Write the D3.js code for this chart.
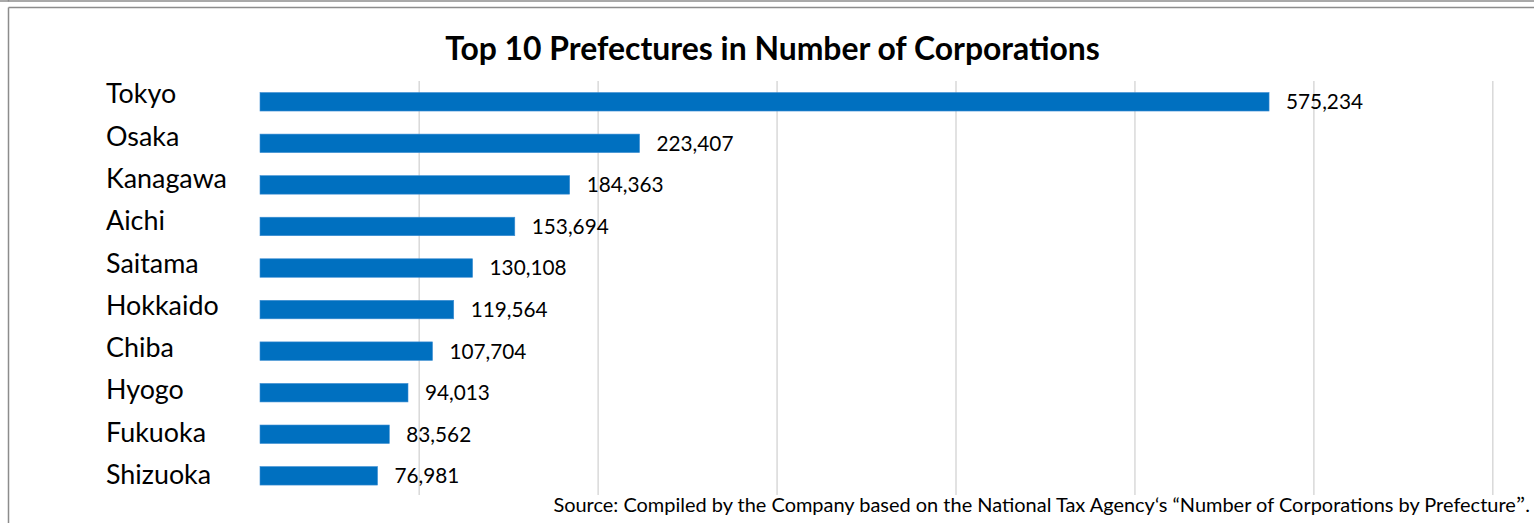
<!DOCTYPE html>
<html>
<head>
<meta charset="utf-8">
<script src="https://cdn.jsdelivr.net/npm/d3@7"></script>
<style>
  html, body { margin: 0; padding: 0; background: #fff; }
  svg { display: block; }
  text { font-family: Lato, "Noto Sans", sans-serif; fill: #000; }
</style>
</head>
<body>
<svg id="chart" width="1534" height="523"></svg>
<script>
// Number of corporations, top 10 prefectures
const prefectures = ["Tokyo", "Osaka", "Kanagawa", "Aichi", "Saitama",
                     "Hokkaido", "Chiba", "Hyogo", "Fukuoka", "Shizuoka"];
const corporations = [575234, 223407, 184363, 153694, 130108,
                      119564, 107704, 94013, 83562, 76981];
const gridTicks = [100000, 200000, 300000, 400000, 500000, 600000, 700000];
const axisRange = [11300, 700000];

const title = "Top 10 Prefectures in Number of Corporations";
const sourceNote = "Source: Compiled by the Company based on the National Tax Agency\u2018s \u201cNumber of Corporations by Prefecture";
const sourceClose = "\u201d";

const svg = d3.select("#chart");
const W = 1534, H = 523;

// frame lines
const frame = svg.append("g").attr("stroke", "#8c8c8c").attr("stroke-width", 1.5).attr("fill", "none");
frame.append("line").attr("x1", 0).attr("x2", W).attr("y1", 1).attr("y2", 1);
frame.append("line").attr("x1", 8.5).attr("x2", 8.5).attr("y1", 0).attr("y2", 1.5);
frame.append("line").attr("x1", 8.5).attr("x2", W).attr("y1", 7.5).attr("y2", 7.5);
frame.append("line").attr("x1", 8.5).attr("x2", 8.5).attr("y1", 7.5).attr("y2", H);

// scales
const x = d3.scaleLinear().domain(axisRange).range([260, 1492.3]);
const y = d3.scaleBand().domain(prefectures).range([81, 496.6])
  .paddingInner(0.555).paddingOuter(0.2775);
const yLabel = d3.scalePoint().domain(prefectures).range([103.3, 484]);

// vertical gridlines
svg.append("g")
  .attr("transform", "translate(0,81)")
  .call(d3.axisBottom(x).tickValues(gridTicks).tickSize(414).tickFormat(""))
  .call(g => g.select(".domain").remove())
  .call(g => g.selectAll(".tick line").attr("stroke", "#d9d9d9").attr("stroke-width", 1.5));

// bars
svg.append("g").selectAll("rect")
  .data(prefectures)
  .join("rect")
  .attr("x", x(axisRange[0]))
  .attr("y", d => y(d))
  .attr("width", (d, i) => x(corporations[i]) - x(axisRange[0]))
  .attr("height", y.bandwidth())
  .attr("fill", "#0070c0")
  .attr("stroke", "#3d8ed3")
  .attr("stroke-width", 0.6);

// fit a text selection's font size so a reference element spans a target width
function fitSize(sel, ref, target, start) {
  sel.style("font-size", start + "px");
  const w = ref.node().getComputedTextLength();
  const s = start * target / w;
  sel.style("font-size", s + "px");
  return s;
}

// value labels
const fmt = d3.format(",");
const vals = svg.append("g").selectAll("text")
  .data(prefectures)
  .join("text")
  .attr("x", (d, i) => x(corporations[i]) + 17)
  .attr("y", d => y(d) + y.bandwidth() / 2)
  .attr("dy", "0.36em")
  .text((d, i) => fmt(corporations[i]));
fitSize(vals, vals.filter((d, i) => i === 0), 77, 21);

// category labels
const cats = svg.append("g").selectAll("text")
  .data(prefectures)
  .join("text")
  .attr("x", 106)
  .attr("y", d => yLabel(d))
  .text(d => d);
fitSize(cats, cats.filter(d => d === "Kanagawa"), 121, 27);

// title
const t = svg.append("text")
  .attr("x", 772.5)
  .attr("y", 59.5)
  .attr("text-anchor", "middle")
  .style("font-weight", "bold")
  .text(title);
fitSize(t, t, 655, 27);

// source note (closing quote set in a full-width face)
const src = svg.append("text")
  .attr("x", 1530)
  .attr("y", 512)
  .attr("text-anchor", "end");
src.append("tspan").text(sourceNote);
src.append("tspan").style("font-family", "'Noto Sans CJK JP', sans-serif").text(sourceClose);
src.append("tspan").text(".");
fitSize(src, src, 977, 18);
</script>
</body>
</html>
